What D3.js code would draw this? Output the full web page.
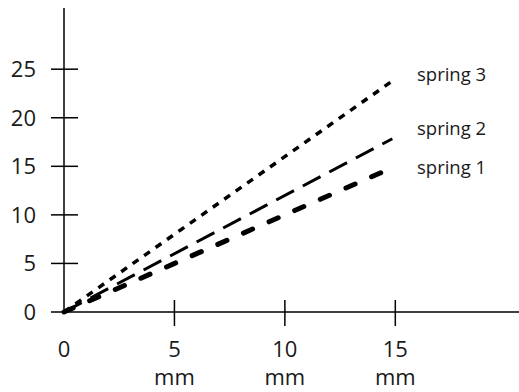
<!DOCTYPE html>
<html>
<head>
<meta charset="utf-8">
<script src="https://cdn.jsdelivr.net/npm/d3@7"></script>
<style>
  body { margin: 0; background: #fff; }
  text { font-family: "Open Sans", sans-serif; fill: #1a1a1a; }
</style>
</head>
<body>
<script>
// chart data
var xTicks = [0, 5, 10, 15];
var yTicks = [0, 5, 10, 15, 20, 25];
var xUnit = "mm";
var seriesNames = ["spring 1", "spring 2", "spring 3"];
var endX = [15, 15, 15];
var endY = [15, 18, 24];

var width = 519, height = 392;

var svg = d3.select("body").append("svg")
  .attr("width", width).attr("height", height);

var x = d3.scaleLinear().domain([0, 20.6]).range([64, 519]);
var y = d3.scaleLinear().domain([0, 31.3]).range([312, 8]);

// y axis line
svg.append("line")
  .attr("x1", x(0)).attr("x2", x(0))
  .attr("y1", y(31.3)).attr("y2", y(0))
  .attr("stroke", "#000").attr("stroke-width", 1.5);

// x axis line
svg.append("line")
  .attr("x1", x(0) - 13).attr("x2", width)
  .attr("y1", y(0)).attr("y2", y(0))
  .attr("stroke", "#000").attr("stroke-width", 1.5);

// y ticks crossing the axis
svg.selectAll(".ytick").data(yTicks.slice(1)).enter().append("line")
  .attr("x1", x(0) - 13).attr("x2", x(0) + 14)
  .attr("y1", function(d){ return y(d); })
  .attr("y2", function(d){ return y(d); })
  .attr("stroke", "#000").attr("stroke-width", 1.5);

svg.selectAll(".ylab").data(yTicks).enter().append("text")
  .attr("x", 36)
  .attr("y", function(d){ return y(d) + 8; })
  .attr("text-anchor", "end")
  .attr("font-size", 22)
  .text(function(d){ return d; });

// x ticks
svg.selectAll(".xtick").data(xTicks.slice(1)).enter().append("line")
  .attr("x1", function(d){ return x(d); })
  .attr("x2", function(d){ return x(d); })
  .attr("y1", y(0) - 12).attr("y2", y(0) + 14)
  .attr("stroke", "#000").attr("stroke-width", 1.5);

svg.selectAll(".xlab").data(xTicks).enter().append("text")
  .attr("x", function(d){ return x(d); })
  .attr("y", 357)
  .attr("text-anchor", "middle")
  .attr("font-size", 22)
  .text(function(d){ return d; });

svg.selectAll(".xunit").data(xTicks.slice(1)).enter().append("text")
  .attr("x", function(d){ return x(d); })
  .attr("y", 385)
  .attr("text-anchor", "middle")
  .attr("font-size", 22)
  .text(xUnit);

// spring lines
var styles = [
  { w: 5, dash: "10,18", cap: "round", dy: 8 },
  { w: 3, dash: "20,10", cap: "butt", dy: -2 },
  { w: 3.5, dash: "7,7", cap: "butt", dy: 2 }
];

svg.selectAll(".spring").data(seriesNames).enter().append("line")
  .attr("x1", x(0)).attr("y1", y(0))
  .attr("x2", function(d, i){ return x(endX[i]) - 3; })
  .attr("y2", function(d, i){ return y(endY[i] * (1 - 3 / (x(endX[i]) - x(0)))); })
  .attr("stroke", "#000")
  .attr("stroke-width", function(d, i){ return styles[i].w; })
  .attr("stroke-dasharray", function(d, i){ return styles[i].dash; })
  .attr("stroke-linecap", function(d, i){ return styles[i].cap; });

svg.selectAll(".slab").data(seriesNames).enter().append("text")
  .attr("x", 417)
  .attr("y", function(d, i){ return y(endY[i]) + styles[i].dy; })
  .attr("font-size", 18.5)
  .text(function(d){ return d; });
</script>
</body>
</html>
